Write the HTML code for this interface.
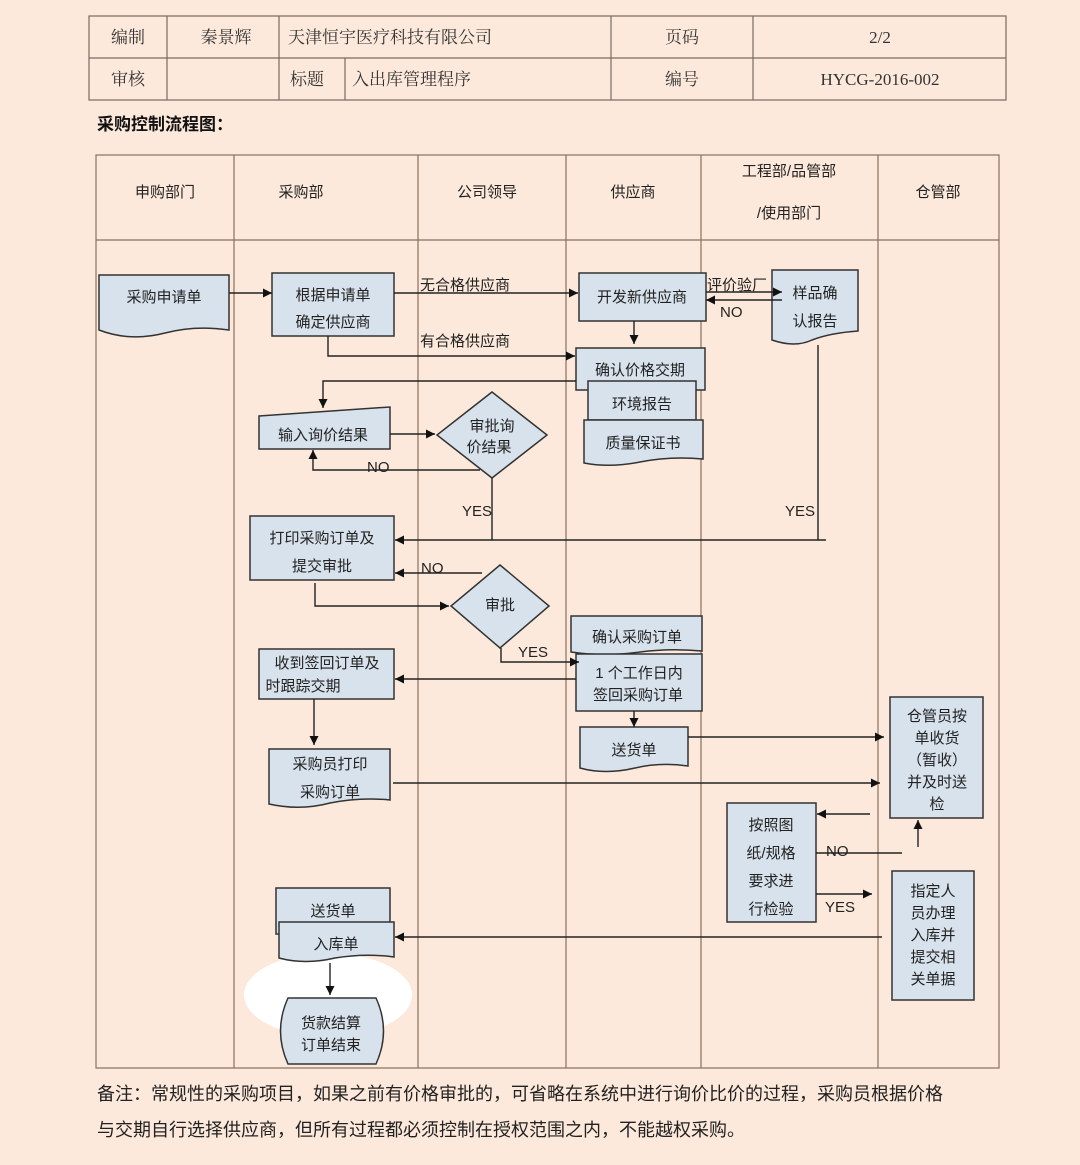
<!DOCTYPE html>
<html><head><meta charset="utf-8"><style>
html,body{margin:0;padding:0;background:#fce9db;}
svg{display:block;font-family:"Liberation Sans","Noto Sans CJK SC",sans-serif;}
</style></head><body>
<svg width="1080" height="1165" viewBox="0 0 1080 1165" xmlns="http://www.w3.org/2000/svg">
<defs>
<marker id="a" viewBox="0 0 10 10" refX="10" refY="5" markerWidth="9" markerHeight="9" orient="auto" markerUnits="userSpaceOnUse"><path d="M0,0 L10,5 L0,10 z" fill="#111"/></marker>
</defs>
<rect width="1080" height="1165" fill="#fce9db"/>
<!-- header table -->
<g stroke="#7a6a60" stroke-width="1.2" fill="none">
<rect x="89" y="16" width="917" height="84"/>
<line x1="89" y1="58" x2="1006" y2="58"/>
<line x1="167" y1="16" x2="167" y2="100"/>
<line x1="279" y1="16" x2="279" y2="100"/>
<line x1="345" y1="58" x2="345" y2="100"/>
<line x1="611" y1="16" x2="611" y2="100"/>
<line x1="753" y1="16" x2="753" y2="100"/>
</g>
<g font-family="'Liberation Serif','Noto Serif CJK SC',serif" font-size="17" fill="#333">
<text x="128" y="43" text-anchor="middle">编制</text>
<text x="226" y="43" text-anchor="middle">秦景辉</text>
<text x="288" y="43">天津恒宇医疗科技有限公司</text>
<text x="682" y="43" text-anchor="middle">页码</text>
<text x="880" y="43" text-anchor="middle">2/2</text>
<text x="128" y="85" text-anchor="middle">审核</text>
<text x="307" y="85" text-anchor="middle">标题</text>
<text x="352" y="85">入出库管理程序</text>
<text x="682" y="85" text-anchor="middle">编号</text>
<text x="880" y="85" text-anchor="middle">HYCG-2016-002</text>
</g>
<text x="97" y="130" font-size="17" font-weight="bold" fill="#111">采购控制流程图：</text>
<!-- swimlanes -->
<g stroke="#8a7060" stroke-width="1.2" fill="none">
<rect x="96" y="155" width="903" height="913"/>
<line x1="96" y1="240" x2="999" y2="240"/>
<line x1="234" y1="155" x2="234" y2="1068"/>
<line x1="418" y1="155" x2="418" y2="1068"/>
<line x1="566" y1="155" x2="566" y2="1068"/>
<line x1="701" y1="155" x2="701" y2="1068"/>
<line x1="878" y1="155" x2="878" y2="1068"/>
</g>
<g font-size="15" fill="#222" text-anchor="middle">
<text x="165" y="197">申购部门</text>
<text x="301" y="197">采购部</text>
<text x="487" y="197">公司领导</text>
<text x="633" y="197">供应商</text>
<text x="789" y="176">工程部/品管部</text>
<text x="789" y="218">/使用部门</text>
<text x="938" y="197">仓管部</text>
</g>
<!-- cloud -->
<ellipse cx="328" cy="995" rx="84" ry="42" fill="#fff"/>
<g stroke="#333" stroke-width="1.5" fill="#d8e2ec">
<!-- docs -->
<path d="M99,275 H229 V330 Q195,325 165,333 Q130,342 99,330 Z"/>
<rect x="272" y="273" width="122" height="63"/>
<rect x="579" y="273" width="127" height="48"/>
<path d="M772,270 H858 V331 Q830,333 812,340 Q795,348 772,340 Z"/>
<rect x="576" y="348" width="129" height="42"/>
<rect x="588" y="381" width="108" height="39"/>
<path d="M584,420 H703 V459 Q670,456 640,462 Q610,468 584,463 Z"/>
<path d="M259,416 L390,407 V449 H259 Z"/>
<path d="M492,392 L547,435 L492,478 L437,435 Z"/>
<rect x="250" y="516" width="144" height="64"/>
<path d="M500,565 L549,606 L500,648 L451,606 Z"/>
<path d="M571,616 H702 V651 Q670,648 640,652 Q605,657 571,652 Z"/>
<rect x="576" y="654" width="126" height="57"/>
<rect x="259" y="649" width="135" height="50"/>
<path d="M269,749 H390 V800 Q360,797 330,803 Q300,811 269,804 Z"/>
<path d="M580,727 H688 V766 Q660,762 635,768 Q605,775 580,768 Z"/>
<rect x="890" y="697" width="93" height="121"/>
<rect x="727" y="803" width="89" height="119"/>
<rect x="892" y="871" width="82" height="129"/>
<rect x="276" y="888" width="114" height="46"/>
<path d="M279,922 H394 V957 Q365,953 335,958 Q305,965 279,958 Z"/>
<path d="M288,998 H376 Q391,1031 376,1064 H288 Q273,1031 288,998 Z"/>
</g>
<!-- connectors -->
<g stroke="#222" stroke-width="1.4" fill="none">
<line x1="229" y1="293" x2="272" y2="293" marker-end="url(#a)"/>
<line x1="394" y1="293" x2="578" y2="293" marker-end="url(#a)"/>
<polyline points="328,336 328,356 575,356" marker-end="url(#a)"/>
<line x1="706" y1="292" x2="782" y2="292" marker-end="url(#a)"/>
<line x1="782" y1="300" x2="706" y2="300" marker-end="url(#a)"/>
<line x1="634" y1="321" x2="634" y2="344" marker-end="url(#a)"/>
<polyline points="576,381 323,381 323,408" marker-end="url(#a)"/>
<line x1="390" y1="434" x2="435" y2="434" marker-end="url(#a)"/>
<polyline points="480,470 313,470 313,450" marker-end="url(#a)"/>
<line x1="492" y1="478" x2="492" y2="540"/>
<polyline points="818,345 818,540"/>
<line x1="826" y1="540" x2="395" y2="540" marker-end="url(#a)"/>
<line x1="482" y1="573" x2="395" y2="573" marker-end="url(#a)"/>
<polyline points="315,583 315,606 449,606" marker-end="url(#a)"/>
<polyline points="501,648 501,662 579,662" marker-end="url(#a)"/>
<line x1="576" y1="679" x2="395" y2="679" marker-end="url(#a)"/>
<line x1="314" y1="699" x2="314" y2="745" marker-end="url(#a)"/>
<line x1="634" y1="711" x2="634" y2="727" marker-end="url(#a)"/>
<line x1="688" y1="737" x2="884" y2="737" marker-end="url(#a)"/>
<line x1="393" y1="783" x2="880" y2="783" marker-end="url(#a)"/>
<line x1="870" y1="814" x2="817" y2="814" marker-end="url(#a)"/>
<line x1="816" y1="853" x2="902" y2="853"/>
<line x1="918" y1="847" x2="918" y2="820" marker-end="url(#a)"/>
<line x1="816" y1="894" x2="872" y2="894" marker-end="url(#a)"/>
<line x1="882" y1="937" x2="395" y2="937" marker-end="url(#a)"/>
<line x1="330" y1="963" x2="330" y2="995" marker-end="url(#a)"/>
</g>
<!-- labels -->
<g font-size="15" fill="#222">
<text x="420" y="290">无合格供应商</text>
<text x="420" y="346">有合格供应商</text>
<text x="707" y="290">评价验厂</text>
<text x="720" y="317">NO</text>
<text x="367" y="472">NO</text>
<text x="462" y="516">YES</text>
<text x="785" y="516">YES</text>
<text x="421" y="573">NO</text>
<text x="518" y="657">YES</text>
<text x="826" y="856">NO</text>
<text x="825" y="912">YES</text>
</g>
<g font-size="15" fill="#222" text-anchor="middle">
<text x="164" y="302">采购申请单</text>
<text x="333" y="300">根据申请单</text>
<text x="333" y="327">确定供应商</text>
<text x="642" y="302">开发新供应商</text>
<text x="815" y="298">样品确</text>
<text x="815" y="326">认报告</text>
<text x="640" y="375">确认价格交期</text>
<text x="642" y="409">环境报告</text>
<text x="643" y="448">质量保证书</text>
<text x="323" y="440">输入询价结果</text>
<text x="492" y="431">审批询</text>
<text x="489" y="452">价结果</text>
<text x="322" y="543">打印采购订单及</text>
<text x="322" y="571">提交审批</text>
<text x="500" y="610">审批</text>
<text x="637" y="642">确认采购订单</text>
<text x="639" y="678">1 个工作日内</text>
<text x="638" y="700">签回采购订单</text>
<text x="327" y="668">收到签回订单及</text>
<text x="303" y="691">时跟踪交期</text>
<text x="330" y="769">采购员打印</text>
<text x="330" y="797">采购订单</text>
<text x="634" y="755">送货单</text>
<text x="937" y="721">仓管员按</text>
<text x="937" y="743">单收货</text>
<text x="937" y="765">（暂收）</text>
<text x="937" y="787">并及时送</text>
<text x="937" y="809">检</text>
<text x="771" y="830">按照图</text>
<text x="771" y="858">纸/规格</text>
<text x="771" y="886">要求进</text>
<text x="771" y="914">行检验</text>
<text x="933" y="896">指定人</text>
<text x="933" y="918">员办理</text>
<text x="933" y="940">入库并</text>
<text x="933" y="962">提交相</text>
<text x="933" y="984">关单据</text>
<text x="333" y="916">送货单</text>
<text x="336" y="949">入库单</text>
<text x="331" y="1028">货款结算</text>
<text x="331" y="1050">订单结束</text>
</g>
<g font-size="18" fill="#222">
<text x="97" y="1100">备注：常规性的采购项目，如果之前有价格审批的，可省略在系统中进行询价比价的过程，采购员根据价格</text>
<text x="97" y="1136">与交期自行选择供应商，但所有过程都必须控制在授权范围之内，不能越权采购。</text>
</g>
</svg>
</body></html>
